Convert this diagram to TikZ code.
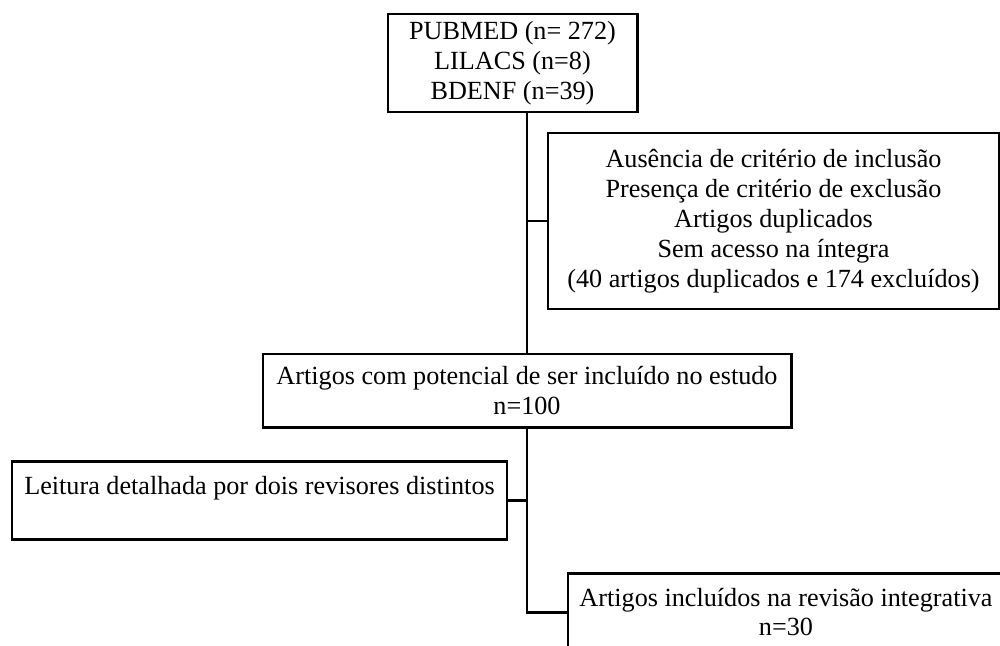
\documentclass[tikz,border=0pt]{standalone}
\usepackage{fontspec}
\setmainfont{Liberation Serif}
\usetikzlibrary{positioning}

\begin{document}
\begin{tikzpicture}[
    box/.style={rectangle, draw=black, line width=1.7pt, align=center, inner sep=2pt,
                font=\fontsize{14.9}{17}\selectfont},
    link/.style={line width=1.7pt},
]
\useasboundingbox (0,0) rectangle (20,-12.9);

% Sources
\node[box, minimum width=4.98cm, minimum height=1.96cm] (bases) at (10.25,-1.26)
    {PUBMED (n= 272)\\LILACS (n=8)\\BDENF (n=39)};

% Exclusions
\node[box, minimum width=9.02cm, minimum height=3.52cm] (excl) at (15.47,-4.42)
    {Ausência de critério de inclusão\\Presença de critério de exclusão\\Artigos duplicados\\
     Sem acesso na íntegra\\(40 artigos duplicados e 174 excluídos)};

% Potential articles
\node[box, minimum width=10.56cm, minimum height=1.46cm] (potential) at (10.54,-7.81)
    {Artigos com potencial de ser incluído no estudo\\n=100};

% Reading
\node[box, minimum width=9.9cm, minimum height=1.56cm] (reading) at (5.19,-10.0)
    {Leitura detalhada por dois revisores distintos\\[-5pt]\strut};

% Included
\node[box, minimum width=8.72cm, minimum height=1.56cm] (included) at (15.72,-12.24)
    {Artigos incluídos na revisão integrativa\\n=30};

% Spine
\coordinate (spine) at (10.54,0);

% Links
\draw[link] (bases.south -| spine) -- (potential.north);
\draw[link] (excl.west) -- (excl.west -| spine);
\draw[link] (potential.south) |- (included.west);
\draw[link] (reading.east) -- (reading.east -| spine);

\end{tikzpicture}
\end{document}
